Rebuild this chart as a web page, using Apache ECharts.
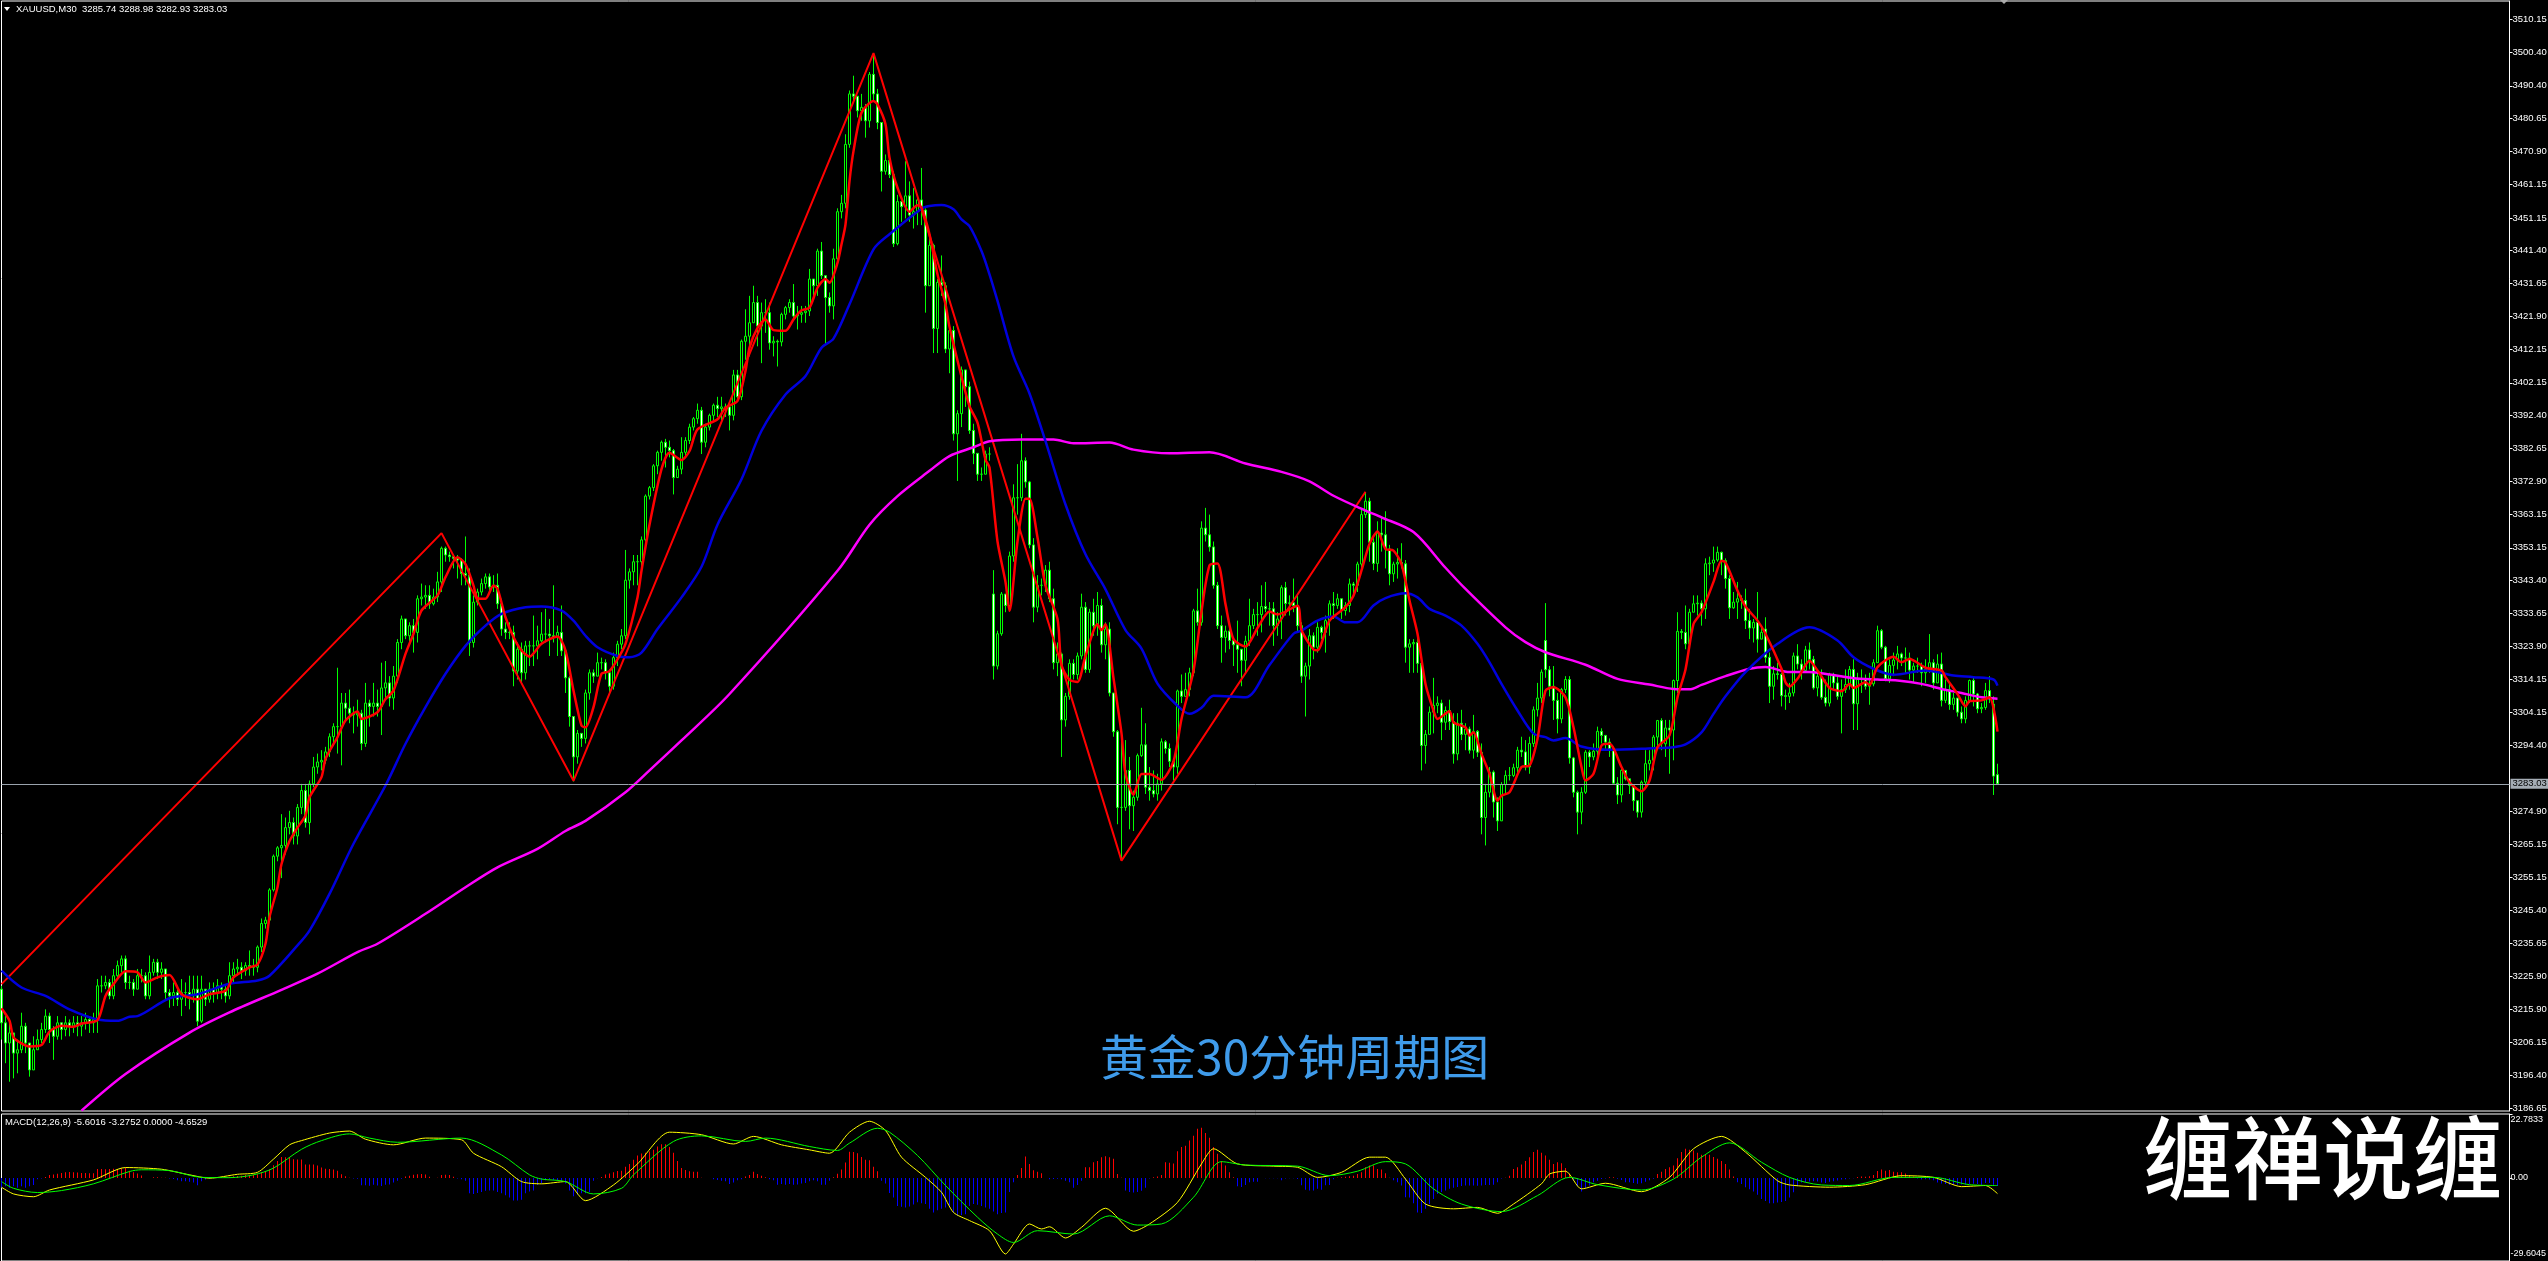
<!DOCTYPE html>
<html><head><meta charset="utf-8"><style>html,body{margin:0;padding:0;background:#000}#c{width:2548px;height:1261px}</style>
<script src="https://cdn.jsdelivr.net/npm/echarts@6/dist/echarts.min.js"></script></head><body><div id="c"></div>
<script>
const priceTicks=[3510.15,3500.40,3490.40,3480.65,3470.90,3461.15,3451.15,3441.40,3431.65,3421.90,3412.15,3402.15,3392.40,3382.65,3372.90,3363.15,3353.15,3343.40,3333.65,3323.90,3314.15,3304.15,3294.40,3274.90,3265.15,3255.15,3245.40,3235.65,3225.90,3215.90,3206.15,3196.40,3186.65];
const macdTicks=[22.7833,0,-29.6045];
const lastPrice=3283.03;
const closes=[3212,3206,3209,3203,3204,3211,3206,3198,3204,3207,
3210,3214,3210,3208,3212,3210,3212,3211,3212,3211,
3212,3213,3212,3213,3223,3223,3224,3220,3226,3229,
3231,3224,3224,3222,3226,3226,3220,3227,3230,3227,
3228,3221,3220,3221,3219,3221,3221,3220,3222,3212.5,
3222,3219,3222,3221,3223,3222,3220,3226,3228,3228.5,
3227.5,3229,3228.5,3228.5,3234.5,3241.5,3242.5,3251.5,3261.5,3264,
3264.7,3270,3271.5,3267.5,3276,3281,3271.5,3283,3288,3289.5,
3290,3292.5,3297,3300,3300,3307,3305.5,3304,3303.5,3304,
3295,3307,3306,3307,3306,3311.5,3313,3308.5,3315,3325,
3332,3327,3330,3328,3338,3338.5,3339,3336.5,3338.5,3343,
3353,3351,3350.5,3350,3349.5,3345.5,3345,3325,3337,3340,
3342.5,3344.5,3341.5,3342,3336.5,3329,3328,3328,3316.5,3323,
3316,3324,3324,3324,3325.5,3327.5,3327.5,3327,3326.5,3328,
3322.5,3314.5,3303,3291,3298,3296.5,3310,3316,3315,3319,
3319,3316,3312,3320.5,3324.5,3327,3343.5,3346,3349,3349,
3355.5,3368.5,3371,3377.5,3381.5,3384.5,3383,3382,3374,3376.5,
3381.5,3385,3389,3391.5,3394,3384.5,3389,3392.5,3395.5,3394.5,
3395,3395,3392.5,3404.5,3398,3414.5,3416,3420,3426,3419,
3423,3423,3414,3414.5,3414.3,3422.5,3424.5,3426,3422,3422.5,
3423,3423.5,3433,3431,3441.3,3434,3427.5,3425,3439,3453,
3455.5,3473,3488,3487.3,3483,3484,3480,3493.8,3488,3479.5,
3465,3468.2,3464,3443.5,3456,3454.5,3457.7,3452,3453,3456.5,
3453.5,3431,3443,3418.3,3432,3431,3412.2,3417.7,3387,3393,
3406,3401,3388,3381.2,3375,3375,3381,3381,3318,3327.6,
3339.4,3336,3350.7,3368,3368,3379,3372.7,3354,3335.5,3342,
3342,3346.5,3338,3319,3321.6,3302,3309,3318.8,3315.5,3321,
3335.5,3317,3334,3330,3336,3324.3,3329,3310,3298.5,3276,
3276,3287,3276.5,3279,3291.4,3294.6,3282,3281,3280,3283,
3295.5,3293.5,3289.7,3288,3310.6,3309,3311,3316,3334.4,3331,
3359,3357,3353.4,3342,3330,3326.5,3328.4,3325.6,3324.3,3323,
3319.7,3325.4,3330,3333.3,3333.3,3335.7,3335,3335,3330,3332,
3341.3,3336.6,3336.8,3336,3330,3315,3318,3327,3323.6,3329.5,
3328,3331.5,3336.5,3336,3338,3334.5,3336,3342.4,3342,3348.3,
3363,3367,3354.8,3348.5,3357.5,3357,3352.8,3345.4,3348.3,3348.8,
3348.4,3323.6,3324.6,3325,3318.8,3294.4,3297.7,3304.3,3306.3,3307,
3301.3,3304.8,3301.5,3291.9,3301,3297.7,3299.3,3293,3298.6,3292.4,
3273,3280.5,3286.5,3277.6,3272,3282.8,3285.5,3285.5,3287.8,3293,
3292.5,3288,3295,3305,3308.5,3316.2,3316.9,3312,3307.8,3302.3,
3311,3314,3290.7,3280.5,3274.6,3280.5,3292.4,3291,3292.7,3298.6,
3297.4,3295.4,3293.4,3283.2,3279.7,3287,3284.5,3282.5,3278,3274.6,
3283.5,3289,3290,3296.9,3301.8,3294.9,3299.6,3299,3313.7,3328.3,
3328,3324.6,3334,3336.5,3336.7,3335,3348.4,3348.6,3349.5,3351.8,
3349.3,3344,3335.3,3337,3338,3337.5,3331.5,3329.3,3331,3326,
3328,3320.6,3312,3315.7,3315.5,3309.2,3309,3310,3321,3318.6,
3316.7,3322.8,3320,3311.5,3315,3308.7,3307,3315.5,3313,3309,
3311,3312.5,3317,3306.8,3314,3314,3312,3312.7,3319,3328.5,
3323.6,3314.2,3318.2,3319.8,3321.6,3320.4,3320.4,3316.8,3318,3318,
3316,3317,3319,3313,3318.6,3307.8,3311,3306.6,3308.5,3304.3,
3302.3,3307.8,3313.7,3309.7,3305.3,3305.7,3310.7,3308.2,3285.3,3283.03];
const highs=[3223,3214,3212,3207,3207,3215,3212,3206,3208,3210,
3212,3216,3215,3211,3214,3212,3214,3213,3214,3214,
3214,3215,3214,3215,3225,3226,3226,3225,3228,3230.5,
3232,3232,3226,3225,3228,3228,3227,3232,3231,3231,
3230,3228,3222,3224,3223,3225,3224,3226,3226,3226,
3226,3222,3224,3224,3225,3224,3223,3230,3230,3231,
3230,3230,3233.5,3231,3235,3243,3243.5,3252,3262,3264.5,
3274,3273,3275,3273,3277,3283,3283,3284,3291,3292,
3293,3294,3298,3301,3317.5,3310,3310,3311,3306,3308,
3305,3313,3308,3313,3311,3319,3319.5,3315,3318,3326,
3333,3332,3331,3332,3339,3342.5,3342,3342,3341,3346,
3353.5,3353.5,3352,3351,3351,3350,3356.5,3347,3339,3341,
3344,3345.5,3345.5,3345,3345.5,3338,3331,3331,3330,3325,
3325,3325.5,3325.5,3333,3330,3334,3335,3332,3342,3330,
3336,3323,3315,3303,3299,3298,3311,3317,3317,3322,
3320.5,3320,3317,3322,3325.5,3329,3352.5,3347,3351,3351,
3356.5,3369,3371.5,3378,3382,3385,3385.5,3385,3382.5,3377.5,
3386,3386,3390,3392,3396,3395,3390,3393,3396,3398,
3398,3396,3396,3406,3406,3415,3424,3428,3431,3428,
3426,3427,3426,3416,3415,3423,3425,3427,3431.5,3425,
3425,3425,3436,3433,3442,3444,3433,3429,3442,3454,
3458,3476,3489,3493.4,3487,3488,3485,3494.5,3499.7,3489.5,
3466,3470,3470,3465,3458,3456,3468,3462,3460,3458,
3466,3454,3445,3443.5,3433,3440,3432,3419,3419,3394,
3407,3404,3402.5,3390,3381,3377,3382,3383,3346.5,3328.5,
3340,3339,3352,3372,3378,3387,3380,3373,3356,3345,
3344,3348,3349,3341,3325,3322,3310,3320,3320,3322,
3339.5,3337,3335,3338,3340,3338,3331,3331,3299,3299,
3299,3296,3291,3281,3292,3305.6,3301,3288,3287,3286,
3296.5,3296,3295,3290,3311,3315.5,3316,3317.5,3335,3341,
3361,3365,3363,3355,3343,3333,3330,3331,3326,3331.5,
3322,3327,3338,3335,3337,3342,3343,3337,3337,3334,
3342,3343,3339,3344,3339,3331,3319,3329,3328,3331,
3330,3333,3337.5,3340,3339.5,3338,3337,3344,3343,3349,
3365,3369.5,3368,3356,3361,3362,3364,3354,3349,3353,
3354.5,3349.5,3326,3326,3328,3319,3299,3306,3314.5,3309,
3308,3306,3308,3304,3304,3305,3301,3300,3303.5,3299,
3295,3283,3288,3287,3279,3283.5,3287,3288,3289,3294,
3297,3296,3297,3306,3313,3317,3336.7,3318,3318,3310,
3311.5,3315,3315,3291,3281,3282,3293,3293,3295,3300,
3299.5,3297,3296.5,3294,3285,3288,3287,3284,3280,3278,
3284,3293,3293,3297.5,3302,3302.5,3302,3302,3314,3334,
3329,3336,3335,3339,3339,3337.5,3350,3350.5,3353.5,3353.5,
3352,3350,3345,3340,3343,3339,3341,3335,3332,3340,
3330,3332.5,3322,3318,3319,3316,3311,3313,3322,3324.5,
3320,3324,3325,3321,3316.5,3317,3314,3316,3316,3315,
3314,3317,3318,3320,3316,3317,3315.5,3316,3320,3330,
3329,3324,3320,3322,3324,3322,3323.5,3322,3319,3320.5,
3319,3320,3327.5,3320,3321.5,3322,3314,3313,3310,3308,
3306,3309,3314,3314.5,3310,3307,3313,3315,3309,3288.98];
const lows=[3207,3200,3194.5,3195.5,3197,3203,3203,3196,3198,3204,
3206,3209,3206,3201,3207,3207,3208,3208,3209,3208,
3208,3210,3209,3209,3209,3221,3222,3219,3219,3225,
3227,3222,3222,3220,3222,3224,3219,3219,3226,3225,
3225,3219,3216.5,3217,3217,3214,3217,3216,3218,3211,
3212,3217,3218,3218,3219,3219,3218,3219,3224,3226,
3225,3226,3226,3226,3227,3233,3240,3242,3251,3260,
3255,3262,3268,3265,3265,3274,3270,3268,3282,3286,
3287,3289,3291,3295,3292,3288.5,3302,3301,3298,3300,
3293,3294,3300,3303,3303,3297.5,3308,3306,3305,3313,
3323,3326,3325,3322,3325,3336,3335,3335,3336,3337,
3340,3349,3349,3347,3344,3342,3342,3321,3323.5,3336,
3339,3341,3340,3340,3335,3327,3326,3326,3312,3314,
3313,3314,3318,3318,3320,3325,3325,3321,3325,3321,
3321,3310,3300,3283.7,3289,3294,3295,3308,3313,3315,
3317,3314,3310,3311,3318,3323,3326,3341,3342,3342,
3347,3355,3367.5,3370,3375,3379,3377,3380,3369,3374,
3375,3380,3384,3388,3390,3381,3383,3388,3391,3392,
3391,3392,3388,3391,3397,3397,3409,3410,3420,3413,
3408,3417,3412,3410,3407,3413,3421,3423,3421,3418,
3420,3420,3422,3428,3428,3433,3413.5,3423,3421,3437,
3451,3454,3472,3486,3481,3480,3475,3478,3486,3477.5,
3459,3464,3463,3442.5,3443,3450,3451,3450,3448,3449,
3449,3423,3431,3411,3411,3428,3411,3405,3385,3373,
3389,3395,3387,3378,3373,3373,3376,3379,3314,3317,
3327,3334,3335,3349,3363,3367,3371,3353,3331,3334,
3339,3340,3337,3317,3315,3291,3300,3308,3314,3314,
3320,3316,3316,3327,3327,3322,3320,3309,3297,3271,
3260.5,3275,3269.5,3269,3278,3291,3280,3278,3279,3278,
3281,3292,3288,3284,3286,3307,3309,3309,3315,3330,
3330,3355,3352,3341,3329,3319,3322,3323,3318,3316,
3312,3316,3324,3329,3327,3328,3334,3330,3324,3327,
3326,3333,3333,3334,3328,3313,3303,3314,3320,3322,
3326,3322,3327,3332,3335,3332,3333,3334,3339,3340,
3346,3362,3349,3346.5,3346,3352,3347,3342,3343,3344,
3347,3319,3316,3316,3316,3287,3289,3298,3298,3304,
3296,3299,3299,3289,3290,3296,3293,3292,3290.5,3291,
3268,3264.7,3279,3273,3269,3272.5,3280,3284,3285,3286,
3291,3287,3286,3294,3303,3307,3314.5,3309,3302,3298,
3301,3310,3289,3279,3268,3271,3280,3288,3290,3290,
3295,3293,3291,3283,3277,3277.5,3284,3280,3275,3273,
3273,3282,3287,3287,3293,3293,3291,3286,3290,3310,
3326,3323,3324,3334,3333,3330,3332,3345,3346,3349,
3345,3341,3332,3335,3332,3335,3329,3326,3325,3322,
3326,3319,3307,3308,3314,3306,3305,3307,3309,3317,
3314,3316,3317,3311,3309,3308,3306,3306,3311,3308,
3298,3310,3311,3299,3299,3310,3311,3306.5,3312,3319,
3323,3313.5,3313,3315,3317,3318,3316,3314,3313,3316,
3312,3313,3316,3311,3313,3306,3307,3305,3305,3303,
3301,3301,3307,3306,3304,3304,3305,3307,3279.7,3282.93];
const gapBars=[0,248,386,441,498,499];
const gapOpens=[3222,3339.4,3325.6,3329,3306.7,3285.74];
const zigBars=[0,110,143,218,280,341];
const zigVals=[3223.5,3357.5,3283.9,3500.1,3260.2,3369.8];
const fastBars=[0,2,3,5,7,10,12,15,18,20,24,26,28,31,34,36,39,42,45,49,52,56,58,62,64,66,67,69,70,72,74,76,77,80,81,84,86,89,90,94,96,98,101,103,105,109,111,114,116,118,119,121,123,124,126,128,130,132,135,139,141,143,145,146,148,150,152,154,156,159,160,162,165,167,170,172,174,179,181,184,186,187,189,191,193,196,198,200,202,204,206,207,209,210,211,212,213,215,218,219,221,222,224,227,229,230,232,234,236,237,240,242,244,246,247,249,251,252,254,256,257,259,261,264,265,267,269,271,274,275,276,278,280,281,283,285,287,290,293,295,298,300,302,304,306,308,311,314,317,319,324,325,328,329,332,336,338,340,342,344,346,348,350,352,354,356,358,359,362,363,366,367,368,370,372,374,375,377,380,382,384,386,388,391,393,395,396,398,400,402,405,407,410,412,414,417,419,421,423,425,428,430,431,434,436,439,441,445,446,447,449,452,454,457,459,460,462,463,466,467,469,473,475,477,481,485,486,489,491,492,495,497,499];
const fastVals=[3216.3,3212.6,3207.7,3205.9,3205,3205.4,3209.4,3211.1,3210.8,3211.8,3212.8,3220,3223.5,3227.3,3227,3224,3225.5,3226.2,3220.5,3219,3220.5,3221.5,3225.5,3228.5,3229.3,3235.5,3243.4,3252.3,3259.2,3266,3270,3273.6,3279,3285,3290.4,3296.9,3301.8,3304.5,3302.3,3304.3,3308.2,3310.7,3321.6,3327.6,3334.5,3339,3344.4,3350.3,3348.3,3341.9,3338.2,3338,3341.9,3341,3332.5,3326.6,3322.6,3320.8,3324.6,3326.8,3322.6,3310.7,3300.3,3299.8,3305.8,3315.7,3316.5,3320,3324.6,3338.4,3346.3,3360,3376.5,3381.4,3379.2,3381.9,3388.3,3391.3,3394.8,3396.8,3405.7,3412.6,3418.5,3421,3417.8,3417.6,3421,3423.7,3424.5,3430.4,3433,3431.9,3437.8,3443.3,3449.2,3462.1,3471,3482.4,3485.9,3484.9,3479,3469,3460.1,3453,3454.9,3454.2,3446.3,3434.4,3425.5,3418.8,3404,3395.2,3390.3,3379.3,3377,3355,3343,3334.4,3355,3367.7,3367.7,3356.2,3341.9,3332,3318.3,3313.9,3313.3,3321,3330.4,3328.7,3330.4,3314.4,3298,3285.9,3279.8,3285.9,3285.9,3284.2,3289.7,3302.3,3316.6,3334.2,3347.9,3348.5,3336.4,3326,3323.8,3329.3,3334.2,3333.3,3335.9,3328.7,3322.9,3322.7,3331.5,3335.5,3338.9,3346.4,3354.3,3358,3352.8,3352.3,3348.3,3337.5,3327.6,3312.7,3304.8,3302.3,3304.6,3301.3,3299.8,3297.4,3298.3,3291.9,3286,3278,3279.5,3280.5,3288,3288.4,3296.4,3310.7,3311.7,3308.7,3299.8,3288,3284,3286,3294.4,3294.9,3288,3283.5,3280.8,3284,3293.9,3297.4,3308.7,3317,3330.5,3334,3343,3349.3,3348.8,3340.4,3335.7,3331.5,3327.6,3317.2,3313.2,3311.9,3314.2,3319.6,3316.7,3311.5,3310.7,3310.5,3312.7,3311.5,3313.2,3312.4,3317.7,3320.8,3319.1,3320.1,3317.5,3316.7,3314.7,3309.7,3306,3307.6,3307.8,3308.7,3298.5];
const slowBars=[0,5,11,17,24,29,32,34,42,49,57,64,67,74,77,82,88,96,101,106,111,116,121,125,131,135,140,143,146,149,154,157,160,164,170,175,179,185,190,196,201,205,208,212,218,222,230,232,235,238,240,242,245,247,249,253,257,261,266,271,276,281,285,289,294,297,300,303,311,317,323,325,329,333,336,339,343,346,351,354,357,361,365,369,372,375,379,383,386,388,391,395,402,413,418,421,425,428,431,436,444,452,459,463,468,473,481,488,493,498,499];
const slowVals=[3227.5,3222.5,3220,3216,3213,3212.6,3213.8,3214,3219.3,3220.5,3223.6,3224.6,3226,3235,3239.4,3250.3,3265.2,3282.5,3294.9,3305.8,3315.7,3324,3330,3333.5,3335.5,3335.7,3334.5,3331.5,3327,3323.6,3321,3320.6,3322,3329,3338.4,3347.5,3360,3373.5,3387.9,3398.7,3404.2,3412.6,3415.3,3425.5,3441.8,3446.3,3453.9,3454.7,3455,3453.7,3450.7,3448.7,3441.3,3434.4,3426.5,3410,3399,3384.8,3366,3351.2,3340.8,3328.7,3323.2,3312.8,3306.2,3303.8,3305.6,3309.2,3308.7,3318.3,3327.6,3328.5,3331.5,3332.7,3331,3331,3336,3338.2,3339.6,3338.4,3335,3333,3330,3324.6,3319.1,3312.7,3304.8,3297.9,3296.9,3295.9,3296.6,3294.1,3293.1,3293.6,3293.9,3294.7,3298.3,3303.8,3309,3316.2,3324.6,3329.5,3325.6,3320.6,3317.2,3315.4,3316.7,3315.2,3314.7,3314,3312.2];
const longBars=[20,31,47,57,70,79,89,94,106,116,124,134,141,146,156,162,170,182,209,217,224,232,237,243,247,255,263,268,277,283,292,302,311,320,327,333,341,345,353,361,366,376,381,386,396,404,412,418,422,425,431,437,441,447,452,457,463,469,474,480,485,490,495,499];
const longVals=[3185.9,3196.8,3209.1,3215.1,3221.8,3226.6,3233,3235.5,3244.4,3252.3,3258.2,3263.7,3269,3272,3280.5,3287,3295.9,3309.7,3346.3,3360,3368.5,3376,3380.4,3383,3384.8,3385.3,3385.3,3384.2,3384.4,3382.3,3381.2,3381.5,3378.2,3375.7,3372.9,3368.6,3364.2,3362.2,3357.8,3347.2,3340.9,3329.5,3325.1,3322.1,3318.4,3314.2,3312.5,3311.2,3311.1,3312.4,3315,3317.2,3317.7,3316.2,3316.2,3315.5,3314.4,3314,3313.7,3312.7,3311.2,3310,3308.7,3308.3];
const histogram=[-3.5,-3,-3.5,-3,-3.5,-3,-3.5,-3,-2.5,-0.5,
-0.2,0.3,1,1.2,1.5,1.8,2,2.1,2,1.9,
1.8,1.8,1.7,1.7,3.2,3.2,3.1,3.2,3.3,3.2,
3.4,3.6,2.6,2,1.6,0.9,0,0,0.2,0.2,
0.1,0.1,-0.2,-0.4,-0.8,-1.2,-1.2,-1.4,-1.6,-2.6,
-1.2,-0.6,-0.4,-0.1,0.1,0.3,0.1,0.4,0.6,0.7,
0.8,1,1,1.1,1.3,2,2.5,3,4.5,6,
7.5,7.4,7.3,6.7,6.6,6.6,4.8,4.8,4.8,4.4,
3.7,3.3,3.2,3,2.6,1.3,0.6,0.1,-0.2,-0.3,
-2.6,-2.6,-2.8,-2.4,-2.7,-2.9,-2.4,-2.3,-1.6,-1,
-0.3,0.5,0.8,1.1,1.3,1.4,1.2,0.4,0,0.1,
1,1.1,1,0.4,-0.2,-0.5,-1,-5.5,-5.7,-5.4,
-5,-4.6,-4.5,-4.5,-5,-5.5,-6.2,-7,-8,-8,
-7.8,-5.5,-4.8,-4.5,-2.5,-2,-0.8,-0.5,-0.8,-0.8,
-1,-2,-4.5,-6.5,-6,-5.5,-5.5,-5,-1,-0.1,
0.3,1.2,1.6,2,2.5,2.6,4,5,6.5,8,
8.7,9,9.4,10,11.2,12,12,11,9,6,
3.5,2.8,2.4,2.2,2.2,0.1,0,0,-0.5,-0.7,
-1,-1.2,-2.2,-1.6,-0.8,-0.5,0.5,1,2.2,1.4,
0.8,0.2,-0.5,-0.8,-2.4,-2.2,-2.4,-2.2,-2.4,-2.3,
-2,-1.8,-1.2,-0.8,-1.2,-2.4,-2.4,-1,0.2,1.5,
3,5.5,9.3,9.2,8.8,7.5,6.5,6.3,4,2.4,
-1,-2,-5.4,-7,-10,-10.3,-10.5,-10.2,-9.5,-8.7,
-9,-9.3,-11,-12.3,-11.5,-11,-10.5,-10,-12.5,-13.5,
-13.2,-12.9,-10,-9.3,-9.6,-10,-10.5,-11,-12,-12.9,
-12.5,-12.3,-5,-1.5,1,3.5,7.6,5,2.7,2.2,
1.7,0,-0.5,-0.4,-0.3,-0.5,-1,-1.5,-3.5,-2.5,
-1,3.8,3.8,5.6,6,7.4,7.7,7.4,6.8,1.4,
0.1,-4.5,-5,-5.2,-5,-4.6,-3.5,-0.2,0.2,0.5,
1,5.6,5.4,5.1,9.5,11,11.5,13.3,15,17.5,
17.9,16,14.3,11,8.6,6,4.4,2,0.2,-3,
-3.2,-2.5,-1.5,-1.4,-1.4,0,-0.1,-0.1,-0.1,-0.1,
-0.8,-0.2,-0.1,-0.1,-0.4,-2.6,-4.2,-4.5,-4.5,-3.9,
-4.2,-2.6,-2.5,-0.5,0.1,0.2,0.4,0.6,0.8,1.4,
2,3.8,4.4,4.4,3.2,3,1.7,0.1,-0.8,-1.5,
-2.7,-6.9,-7,-9,-12.3,-12.5,-11,-9.3,-7.5,-5.7,
-5,-4.5,-3.9,-3.5,-3.2,-2.9,-2.7,-2.7,-2.7,-2.8,
-2.7,-2.5,-2.5,-2.4,-1.5,-0.2,0.1,0.8,3.2,3.8,
4.8,6,7.4,9.2,10,9,8,6.5,5,5.6,
5.2,3.5,1.5,-1,-3,-4.8,-3.5,-2.7,-1.5,-1,
-0.4,-0.2,0.2,0.2,-0.3,-0.7,-1.5,-1.5,-1.8,-2.1,
-1.9,-1.4,-0.8,-0.3,1.4,2.2,3.2,3.8,4.4,7,
9.2,10.4,10,9.8,9,8.3,8.3,8.3,7.5,6.8,
6,5,3,0.5,-1.5,-2.2,-3.3,-4,-4.8,-6,
-7.5,-8.2,-9,-9,-8.8,-8.6,-8.2,-7,-5.1,-3,
-1.6,-1.5,-1.3,-1.2,-1.3,-1.6,-1.8,-1.4,-1.2,-0.9,
-0.6,-0.5,-0.2,-0.1,0.3,0.5,0.4,0.6,1,2.5,
3,2.6,2.8,2.2,2,2,1.6,1,0.5,-0.2,
-0.6,-0.5,-0.6,-0.8,-1.6,-2,-2.2,-2.4,-2.4,-2.4,
-2.3,-2.4,-2.2,-2.1,-2.2,-2.4,-1.8,-1.8,-2.4,-2.9];
const mainBars=[0,3,8,12,23,31,40,47,52,59,64,68,72,75,82,87,91,98,106,115,118,125,130,135,141,146,153,159,167,175,183,188,195,202,207,212,217,221,225,231,235,238,242,247,251,253,257,260,262,266,270,276,283,287,294,300,303,309,318,324,329,335,342,346,351,356,363,369,374,378,385,387,391,395,401,410,417,423,430,436,444,447,457,466,475,483,490,496,499];
const mainVals=[-3.3,-5.7,-6.7,-4.3,-0.7,3.7,3.1,1.1,-0.1,1.3,2,6.7,11.8,13.3,16,16.7,13.8,11.8,14.2,13.6,8.8,4,-1.3,-2.1,-1.3,-8.1,-2.5,5,16.3,15.4,12.1,14.8,11.8,10,8.8,16.3,20.2,16.9,7.4,0.2,-5.1,-12.3,-15.2,-18.8,-27.1,-23.6,-16.4,-18.2,-17.4,-21.4,-17.6,-10.8,-19,-16.4,-8.7,5,10.4,5,4.2,3.8,0.2,2,7.4,7.4,-0.4,-9.3,-11,-10.5,-12.6,-9.3,-2.1,1.4,2.4,-3.9,-1.9,-4.9,0.2,10.4,14.8,9.2,-1,-2.5,-3.3,-2.4,0.8,0.2,-3.1,-2.7,-5.6];
const signalBars=[0,3,9,15,23,32,35,42,50,57,63,68,75,80,87,92,99,115,125,132,135,141,148,155,158,168,175,186,191,202,209,212,219,222,229,236,244,249,253,259,268,277,284,290,298,305,311,324,332,339,346,351,358,365,375,384,392,399,410,418,425,432,440,447,455,462,473,483,492,499];
const signalVals=[-1.3,-3.7,-5.2,-4.5,-2.1,2.3,2.9,2.6,0.2,0.1,1.1,3.5,10.2,13.3,15.7,14.2,12.7,14.2,8.2,1.1,-0.4,-1.3,-5.7,-3.7,1.1,13,15,13,14.2,11.2,9.8,12.4,17.7,16.3,8,-2.7,-14,-20,-23,-18.8,-20,-13.5,-16.8,-16.4,-6.9,5.8,4.6,4.2,0.8,2.4,5.8,5,-3.9,-9.3,-12,-6.3,0.2,-2.4,-4.3,-0.4,7.4,12.5,5.6,0.2,-2.5,-2.7,0.2,0.2,-2.4,-2.7];
const priceTitle='XAUUSD,M30  3285.74 3288.98 3282.93 3283.03';
const macdTitle='MACD(12,26,9) -5.6016 -3.2752 0.0000 -4.6529';
const noteText='黄金30分钟周期图';
const brandText='缠禅说缠';
const slotCount=628;

const cats=Array.from({length:slotCount},(_,i)=>String(i));
const pair=(xs,ys)=>xs.map((x,k)=>[x,ys[k]]);
const ohlc=closes.map((c,i)=>{
  const g=gapBars.indexOf(i);
  const o=g>=0?gapOpens[g]:closes[i-1];
  return [o,c,Math.min(lows[i],o,c),Math.max(highs[i],o,c)];
});
const sans='"Liberation Sans",sans-serif';
const line=(name,xi,yi,data,color,width,smooth)=>({name,type:'line',xAxisIndex:xi,yAxisIndex:yi,data,symbol:'none',showSymbol:false,silent:true,
  smooth:smooth||false,lineStyle:{color,width},itemStyle:{color},clip:true,animation:false});
const chart=echarts.init(document.getElementById('c'),null,{renderer:'canvas'});
chart.setOption({
  animation:false,backgroundColor:'#000',
  grid:[{left:1.5,top:1,width:2508,height:1110,show:true,borderColor:'#fff',borderWidth:1,backgroundColor:'#000',outerBoundsMode:'none'},
        {left:1.5,top:1114,width:2508,height:147,show:true,borderColor:'#fff',borderWidth:1,backgroundColor:'#000',outerBoundsMode:'none'}],
  xAxis:[0,1].map(g=>({type:'category',gridIndex:g,data:cats,boundaryGap:false,axisLine:{show:false},axisTick:{show:false},axisLabel:{show:false},splitLine:{show:false}})),
  yAxis:[
   {type:'value',gridIndex:0,position:'right',min:3185.8,max:3515.6,splitLine:{show:false},
    axisLine:{show:true,lineStyle:{color:'#fff'}},
    axisTick:{show:true,length:3,inside:false,lineStyle:{color:'#fff'},customValues:priceTicks},
    axisLabel:{color:'#fff',fontFamily:sans,fontSize:9.5,margin:3,customValues:priceTicks,formatter:v=>v.toFixed(2),hideOverlap:false}},
   {type:'value',gridIndex:1,position:'right',min:macdTicks[2],max:macdTicks[0],splitLine:{show:false},
    axisLine:{show:true,lineStyle:{color:'#fff'}},
    axisTick:{show:true,length:3,lineStyle:{color:'#fff'},customValues:macdTicks},
    axisLabel:{color:'#fff',fontFamily:sans,fontSize:9,margin:1,customValues:macdTicks,
      rich:{top:{color:'#fff',fontFamily:sans,fontSize:9,padding:[12,0,0,0]},bot:{color:'#fff',fontFamily:sans,fontSize:9,padding:[0,0,14,0]}},
      formatter:v=>v===0?'0.00':(v>0?'{top|'+v.toFixed(4)+'}':'{bot|'+v.toFixed(4)+'}'),hideOverlap:false}}
  ],
  series:[
   {name:'XAUUSD',type:'candlestick',xAxisIndex:0,yAxisIndex:0,data:ohlc,barWidth:3,silent:true,animation:false,
    itemStyle:{color:'#000',color0:'#fff',borderColor:'#00ff00',borderColor0:'#00ff00',borderWidth:1},
    markLine:{silent:true,symbol:'none',animation:false,lineStyle:{color:'#9aa3ad',width:1,type:'solid'},
      label:{show:true,position:'end',distance:1,formatter:()=>lastPrice.toFixed(2),color:'#000',backgroundColor:'#a4acb4',fontFamily:sans,fontSize:9.5,padding:[0,2,0,2]},
      data:[{yAxis:lastPrice}]}},
   line('Zigzag',0,0,pair(zigBars,zigVals),'#ff0000',2),
   line('Long MA',0,0,pair(longBars,longVals),'#ff00ff',2.5,0.3),
   line('Slow MA',0,0,pair(slowBars,slowVals),'#0000dd',2.5,0.3),
   line('Fast MA',0,0,pair(fastBars,fastVals),'#ff0000',2.5,0.25),
   {name:'MACD hist',type:'bar',xAxisIndex:1,yAxisIndex:1,barWidth:1,silent:true,animation:false,
    data:histogram.map(v=>({value:v,itemStyle:{color:v>=0?'#ff0000':'#0000ff'}}))},
   line('MACD',1,1,pair(mainBars,mainVals),'#ffff00',1,0.25),
   line('Signal',1,1,pair(signalBars,signalVals),'#00ff00',1,0.3)
  ],
  graphic:[
   {type:'polygon',z:50,shape:{points:[[4,7],[10,7],[7,11]]},style:{fill:'#fff'}},
   {type:'text',z:50,left:16,top:4,style:{text:priceTitle,fill:'#fff',font:'9.5px '+sans}},
   {type:'text',z:50,left:5,top:1117,style:{text:macdTitle,fill:'#fff',font:'9.5px '+sans}},
   {type:'polygon',z:50,shape:{points:[[2000,0],[2008,0],[2004,4]]},style:{fill:'#aaa'}},
   {type:'text',z:60,left:1100,top:1033,style:{text:noteText,fill:'#3f9bea',font:'48px "Noto Sans CJK SC"'}},
   {type:'text',z:60,left:2143,top:1113,style:{text:brandText,fill:'#fff',font:'500 90px "Noto Sans CJK SC"'}}
  ]
});
</script></body></html>
